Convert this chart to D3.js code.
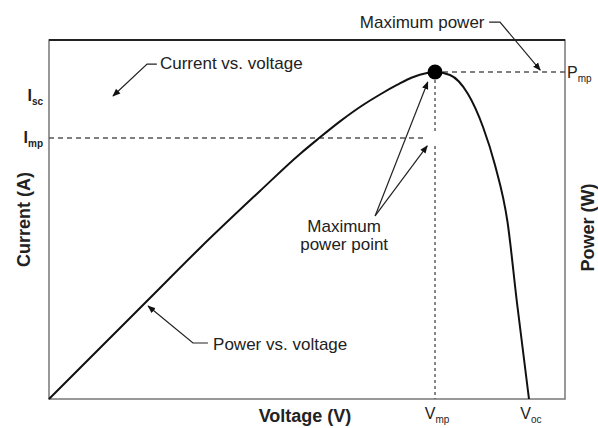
<!DOCTYPE html>
<html>
<head>
<meta charset="utf-8">
<script src="https://cdn.jsdelivr.net/npm/d3@7"></script>
<style>
  body { margin: 0; background: #fff; }
  svg { font-family: "Liberation Sans", Arial, sans-serif; }
</style>
</head>
<body>
<svg id="chart" width="598" height="428"></svg>
<script>
// Curva potência x tensão (unidades relativas, 0-100)
const tensao   = [0, 9.88, 19.57, 29.26, 40.89, 48.64, 52.13, 56.40, 60.85, 64.15, 67.44, 70.35, 73.26, 74.81, 77.71, 81.20, 84.11, 86.43, 88.86, 90.70, 93.02];
const potencia = [0, 14.21, 28.13, 42.06, 57.94, 68.25, 72.42, 77.33, 81.89, 84.82, 87.47, 89.55, 90.81, 91.09, 90.25, 84.96, 75.77, 65.18, 49.30, 26.74, 0];

// Níveis de referência
const Vmp = 74.81, Voc = 93.02, Pmp = 91.09, Imp = 72.7, Isc = 84.4;

// Rótulos dos eixos
const rotulosEsq = [{ v: Isc, base: "I", sub: "sc" }, { v: Imp, base: "I", sub: "mp" }];
const rotulosInf = [{ v: Vmp, base: "V", sub: "mp" }, { v: Voc, base: "V", sub: "oc" }];
const rotulosDir = [{ v: Pmp, base: "P", sub: "mp" }];

// Anotações: texto + linha guia (em unidades do gráfico)
const anotacoes = [
  { linhas: ["Current vs. voltage"], pos: [21.5, 91.9], anchor: "start",
    guias: [[[20.9, 93.3], [19.0, 93.3], [12.4, 84.4]]] },
  { linhas: ["Maximum power"], pos: [84.4, 103.4], anchor: "end",
    guias: [[[85.3, 105.0], [87.4, 105.0], [95.2, 91.6]]] },
  { linhas: ["Maximum", "power point"], pos: [57.2, 46.5], anchor: "middle",
    guias: [[[63.2, 51.0], [73.4, 88.3]], [[63.2, 51.0], [73.3, 70.5]]] },
  { linhas: ["Power vs. voltage"], pos: [31.8, 13.6], anchor: "start",
    guias: [[[30.8, 15.6], [27.9, 15.6], [19.2, 25.9]]] }
];

const svg = d3.select("#chart");
const x = d3.scaleLinear().domain([0, 100]).range([49, 565]);
const y = d3.scaleLinear().domain([0, 100]).range([399, 40]);

svg.append("defs").append("marker")
  .attr("id", "seta")
  .attr("viewBox", "0 0 10 10")
  .attr("refX", 9).attr("refY", 5)
  .attr("markerWidth", 8).attr("markerHeight", 8)
  .attr("markerUnits", "userSpaceOnUse")
  .attr("orient", "auto")
  .append("path")
  .attr("d", "M0,1 L10,5 L0,9 Z")
  .attr("fill", "#111");

// Moldura
svg.append("rect")
  .attr("x", x(0)).attr("y", y(100))
  .attr("width", x(100) - x(0)).attr("height", y(0) - y(100))
  .attr("fill", "none").attr("stroke", "#777").attr("stroke-width", 1.5);
svg.append("line")
  .attr("x1", x(0)).attr("x2", x(100)).attr("y1", y(100)).attr("y2", y(100))
  .attr("stroke", "#222").attr("stroke-width", 2);

// Linhas tracejadas
const tracejado = (x1, y1, x2, y2, dash) => svg.append("line")
  .attr("x1", x1).attr("y1", y1).attr("x2", x2).attr("y2", y2)
  .attr("stroke", "#555").attr("stroke-width", 1.4).attr("stroke-dasharray", dash);

tracejado(x(0), y(Imp), x(Vmp) - 8, y(Imp), "5,4");
tracejado(x(Vmp) + 8, y(Pmp), x(100), y(Pmp), "5,4");
tracejado(x(Vmp), y(Pmp) + 8, x(Vmp), y(Imp) - 7, "3,3");
tracejado(x(Vmp), y(Imp) + 8, x(Vmp), y(0), "3,3");

// Curva
const linha = d3.line()
  .x(d => x(d[0]))
  .y(d => y(d[1]))
  .curve(d3.curveMonotoneX);

svg.append("path")
  .datum(d3.zip(tensao, potencia))
  .attr("d", linha)
  .attr("fill", "none")
  .attr("stroke", "#111")
  .attr("stroke-width", 2);

// Ponto de máxima potência
svg.append("circle")
  .attr("cx", x(Vmp)).attr("cy", y(Pmp)).attr("r", 7.5)
  .attr("fill", "#000");

// Anotações
anotacoes.forEach(a => {
  a.guias.forEach(g => {
    svg.append("path")
      .attr("d", d3.line().x(p => x(p[0])).y(p => y(p[1]))(g))
      .attr("fill", "none")
      .attr("stroke", "#222")
      .attr("stroke-width", 1.2)
      .attr("marker-end", "url(#seta)");
  });
  const t = svg.append("text")
    .attr("x", x(a.pos[0])).attr("y", y(a.pos[1]))
    .attr("text-anchor", a.anchor)
    .attr("font-size", 17)
    .attr("fill", "#222");
  a.linhas.forEach((l, i) => {
    t.append("tspan").attr("x", x(a.pos[0])).attr("dy", i === 0 ? 0 : 18).text(l);
  });
});

// Rótulos com subscrito
function rotulo(px, py, r, anchor, bold) {
  const t = svg.append("text")
    .attr("x", px).attr("y", py)
    .attr("text-anchor", anchor)
    .attr("fill", "#222")
    .attr("font-weight", bold ? "bold" : "normal");
  t.append("tspan").attr("font-size", 16).text(r.base);
  t.append("tspan").attr("font-size", 10).attr("dy", 4).text(r.sub);
}

rotulosEsq.forEach(r => rotulo(x(0) - 6, y(r.v) + 5, r, "end", true));
rotulosInf.forEach(r => rotulo(x(r.v) + 2, 419, r, "middle", false));
rotulosDir.forEach(r => rotulo(x(100) + 2, y(r.v) + 6, r, "start", false));

// Títulos dos eixos
svg.append("text")
  .attr("x", (x(0) + x(100)) / 2 - 2).attr("y", 422)
  .attr("text-anchor", "middle")
  .attr("font-size", 18).attr("font-weight", "bold").attr("fill", "#222")
  .text("Voltage (V)");

svg.append("text")
  .attr("transform", `translate(30,${(y(0) + y(100)) / 2}) rotate(-90)`)
  .attr("text-anchor", "middle")
  .attr("font-size", 18).attr("font-weight", "bold").attr("fill", "#222")
  .text("Current (A)");

svg.append("text")
  .attr("transform", `translate(594,${(y(0) + y(100)) / 2 + 8}) rotate(-90)`)
  .attr("text-anchor", "middle")
  .attr("font-size", 18).attr("font-weight", "bold").attr("fill", "#222")
  .text("Power (W)");
</script>
</body>
</html>
